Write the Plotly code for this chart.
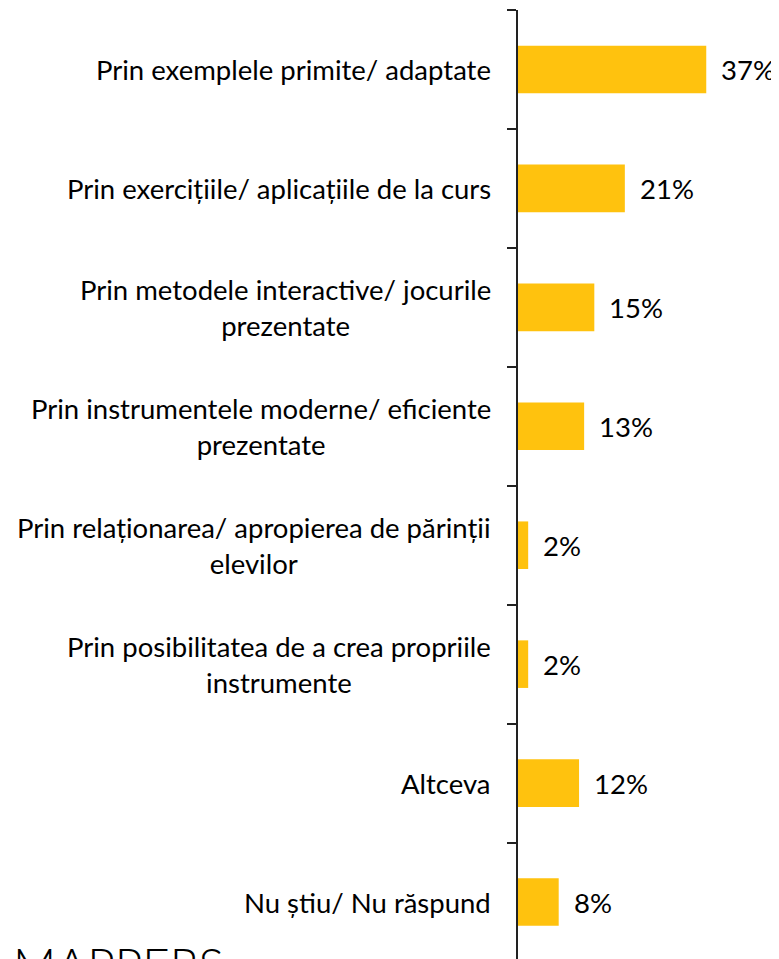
import plotly.graph_objects as go

categories = [
    "Prin exemplele primite/ adaptate",
    "Prin exercițiile/ aplicațiile de la curs",
    "Prin metodele interactive/ jocurile<br>prezentate",
    "Prin instrumentele moderne/ eficiente<br>prezentate",
    "Prin relaționarea/ apropierea de părinții<br>elevilor",
    "Prin posibilitatea de a crea propriile<br>instrumente",
    "Altceva",
    "Nu știu/ Nu răspund",
]
values = [37, 21, 15, 13, 2, 2, 12, 8]
value_labels = ["37%", "21%", "15%", "13%", "2%", "2%", "12%", "8%"]

# page body has an 8px default margin, compensate
OFF = 8
W, H = 779 - OFF, 959 - OFF
L, T = 518 - OFF, 10 - OFF
BAR = "#FFC20E"
FONT = "Lato"
FS = 27.5

ids = list(range(len(categories)))
n = len(categories)
boundaries = [i - 0.5 for i in range(n + 1)]

fig = go.Figure()
fig.add_trace(go.Bar(
    x=values, y=ids, orientation="h",
    marker=dict(color=BAR, line=dict(width=0)),
    width=0.4, hoverinfo="skip",
))

for i, (cat, v, lab) in enumerate(zip(categories, values, value_labels)):
    fig.add_annotation(x=0, xref="paper", y=i, yref="y", text=cat,
                       xanchor="right", yanchor="middle", align="center",
                       xshift=-25, showarrow=False,
                       font=dict(family=FONT, size=FS, color="#000"))
    fig.add_annotation(x=v, xref="x", y=i, yref="y", text=lab,
                       xanchor="left", yanchor="middle", xshift=13,
                       showarrow=False,
                       font=dict(family=FONT, size=FS, color="#000"))

plot_w = W - L
fig.add_annotation(x=(11 - OFF - L) / plot_w, xref="paper", y=0, yref="paper",
                   text="MAPPERS", xanchor="left", yanchor="top", yshift=25,
                   showarrow=False,
                   font=dict(family=FONT, size=47.5, color="#000", weight=300))

fig.update_yaxes(
    range=[n - 0.5 - 2.5 / 119, -0.5],
    tickmode="array", tickvals=boundaries, ticktext=[""] * len(boundaries),
    ticks="outside", ticklen=9, tickwidth=2,
    tickcolor="#222", showline=True, linecolor="#222", linewidth=2,
    showgrid=False, zeroline=False, showticklabels=False,
)
fig.update_xaxes(range=[0, 51.3], visible=False, showgrid=False, zeroline=False)

fig.update_layout(
    width=W, height=H, margin=dict(l=L, r=0, t=T, b=0),
    plot_bgcolor="white", paper_bgcolor="white", showlegend=False,
    font=dict(family=FONT, size=FS, color="#000"), bargap=0.6,
)

fig.write_html("out.html")
